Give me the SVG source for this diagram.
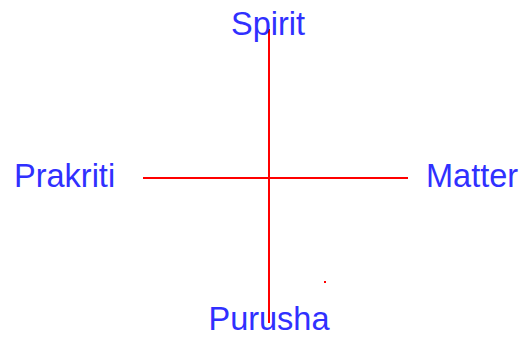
<svg xmlns="http://www.w3.org/2000/svg" width="520" height="337" viewBox="0 0 520 337">
<style>
.lbl{font-family:"Liberation Sans",Arial,sans-serif;font-size:32.5px;fill:#3030ff}
.ln{stroke:#ff0000;stroke-width:2;fill:none}
</style>
<rect width="520" height="337" fill="#ffffff"/>
<g id="connectors">
<line class="ln" x1="269" y1="29" x2="269" y2="323"/>
<line class="ln" x1="143" y1="178" x2="408" y2="178"/>
<rect x="324" y="281" width="2" height="2" fill="#ff0000"/>
</g>
<g id="spirit"><text class="lbl" x="268" y="35" text-anchor="middle">Spirit</text></g>
<g id="prakriti"><text class="lbl" x="14" y="187">Prakriti</text></g>
<g id="matter"><text class="lbl" x="426" y="187">Matter</text></g>
<g id="purusha"><text class="lbl" x="269" y="330" text-anchor="middle">Purusha</text></g>
</svg>
